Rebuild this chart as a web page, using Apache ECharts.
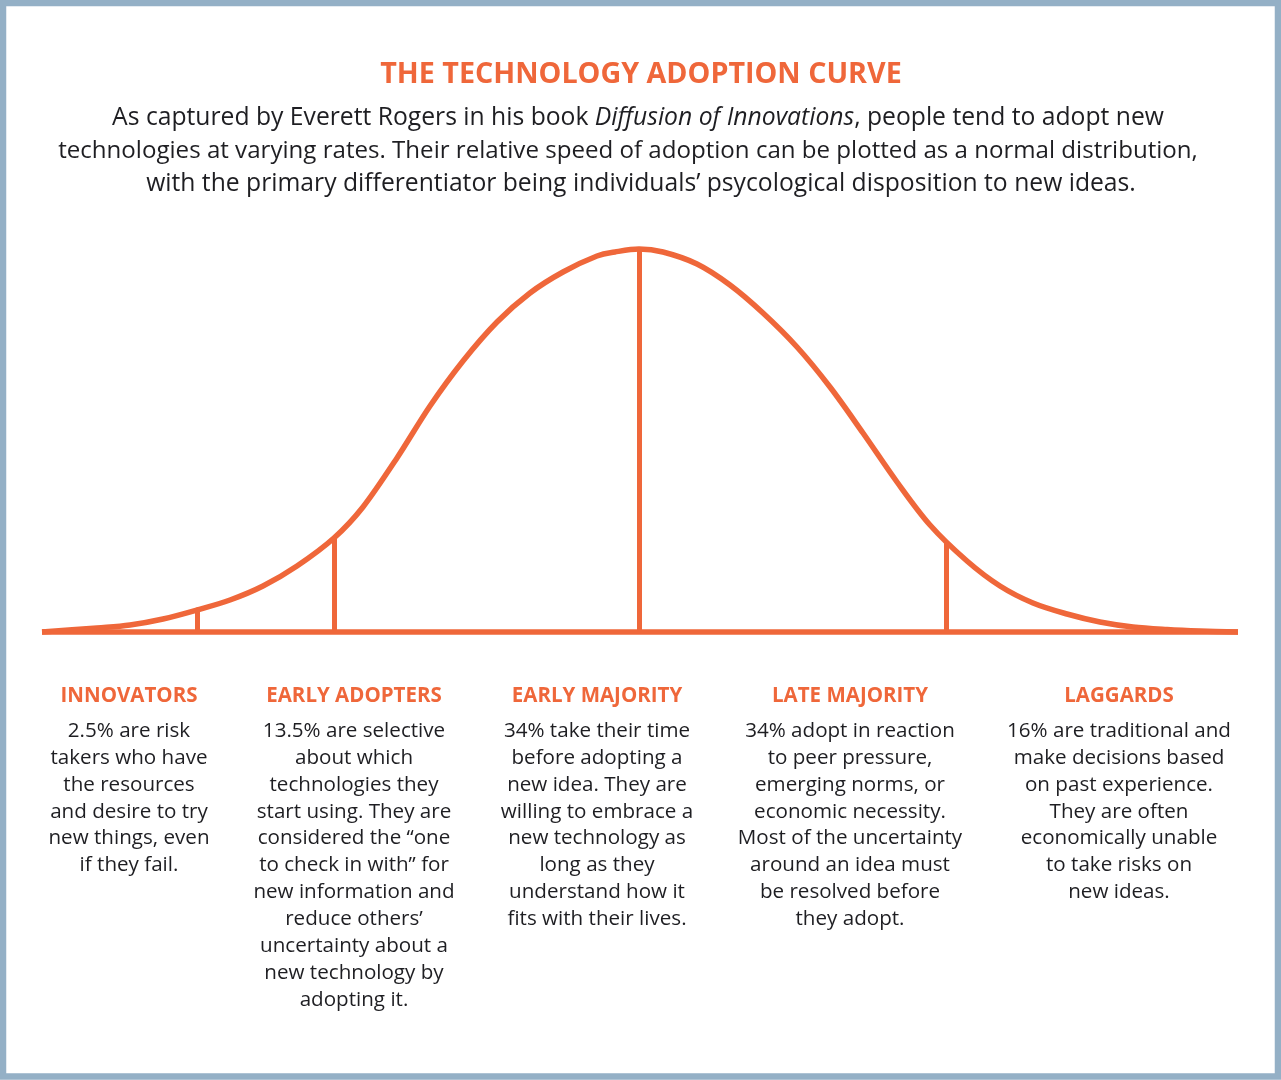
<!DOCTYPE html>
<html>
<head>
<meta charset="utf-8">
<script src="https://cdn.jsdelivr.net/npm/echarts@6/dist/echarts.min.js"></script>
<style>
html,body{margin:0;padding:0;background:#fff;}
#chart{width:1281px;height:1080px;}
</style>
</head>
<body>
<div id="chart"></div>
<script>
// Curve: horizontal position and height above the baseline
const curveX = [42, 97, 130, 163, 197, 230, 263, 297, 334, 363, 397, 430, 463, 497, 530, 563, 597, 615, 639, 663, 697, 730, 763, 797, 830, 863, 897, 930, 967, 1000, 1033, 1067, 1100, 1133, 1167, 1200, 1238];
const curveH = [0, 4, 7, 13, 22, 32, 46, 66, 94, 125, 174, 226, 271, 310, 339, 360, 376, 380, 383, 380, 368, 347, 319, 285, 245, 199, 150, 107, 71, 46, 29, 18, 10, 5, 2.5, 1, 0];
const baselineX = [42, 1238];
const dividerX = [197, 334, 639, 946];
const dividerTop = [22, 94, 383, 91];

const titleText = 'THE TECHNOLOGY ADOPTION CURVE';
const introLines = [
  'As captured by Everett Rogers in his book {i|Diffusion of Innovations}, people tend to adopt new',
  'technologies at varying rates. Their relative speed of adoption can be plotted as a normal distribution,',
  'with the primary differentiator being individuals\u2019 psycological disposition to new ideas.'
];
const introCenters = [638, 628, 641];
const introSizes = [24.7, 24.1, 24.7];
const groupNames = ['INNOVATORS', 'EARLY ADOPTERS', 'EARLY MAJORITY', 'LATE MAJORITY', 'LAGGARDS'];
const groupTexts = [
  ['2.5% are risk', 'takers who have', 'the resources', 'and desire to try', 'new things, even', 'if they fail.'],
  ['13.5% are selective', 'about which', 'technologies they', 'start using. They are', 'considered the \u201cone', 'to check in with\u201d for', 'new information and', 'reduce others\u2019', 'uncertainty about a', 'new technology by', 'adopting it.'],
  ['34% take their time', 'before adopting a', 'new idea. They are', 'willing to embrace a', 'new technology as', 'long as they', 'understand how it', 'fits with their lives.'],
  ['34% adopt in reaction', 'to peer pressure,', 'emerging norms, or', 'economic necessity.', 'Most of the uncertainty', 'around an idea must', 'be resolved before', 'they adopt.'],
  ['16% are traditional and', 'make decisions based', 'on past experience.', 'They are often', 'economically unable', 'to take risks on', 'new ideas.']
];
const groupCenters = [129, 354, 597, 850, 1119];

const ORANGE = '#ef673a';
const TEXT = '#1e1e22';
const FONT = '"Open Sans", "Noto Sans", sans-serif';

const chart = echarts.init(document.getElementById('chart'), null, {renderer: 'canvas'});

const graphics = [];
graphics.push({
  type: 'rect', silent: true, z: 0,
  shape: {x: 3, y: 3, width: 1275, height: 1073.5},
  style: {fill: '#ffffff', stroke: '#94b0c6', lineWidth: 6.5}
});
graphics.push({
  type: 'text', silent: true,
  style: {text: titleText, x: 641, y: 75, align: 'center', verticalAlign: 'middle',
    font: 'bold 28.7px ' + FONT, fill: ORANGE}
});
introLines.forEach((line, i) => {
  graphics.push({
    type: 'text', silent: true,
    style: {text: line, x: introCenters[i], y: 118 + i * 33, align: 'center', verticalAlign: 'middle',
      font: introSizes[i] + 'px ' + FONT, fill: TEXT,
      rich: {i: {fontStyle: 'italic', fontSize: introSizes[i], fontFamily: FONT, fill: TEXT}}}
  });
});
groupNames.forEach((name, k) => {
  graphics.push({
    type: 'text', silent: true,
    style: {text: name, x: groupCenters[k], y: 696, align: 'center', verticalAlign: 'middle',
      font: 'bold 20.5px ' + FONT, fill: ORANGE}
  });
  groupTexts[k].forEach((line, j) => {
    graphics.push({
      type: 'text', silent: true,
      style: {text: line, x: groupCenters[k], y: 731 + j * 26.9, align: 'center', verticalAlign: 'middle',
        font: '20.6px ' + FONT, fill: TEXT}
    });
  });
});

const dividerLines = dividerX.map((x, i) => [{coord: [x, 0]}, {coord: [x, dividerTop[i]]}]);

// Smooth curve through the read points, placed with the chart's own axes (api.coord)
function renderCurve(params, api) {
  if (params.dataIndex !== 0) return null;
  const pts = curveX.map((x, i) => api.coord([x, curveH[i]]));
  const n = pts.length;
  let d = 'M' + pts[0][0] + ' ' + pts[0][1];
  for (let i = 0; i < n - 1; i++) {
    const p0 = pts[Math.max(i - 1, 0)];
    const p1 = pts[i];
    const p2 = pts[i + 1];
    const p3 = pts[Math.min(i + 2, n - 1)];
    const c1x = p1[0] + (p2[0] - p0[0]) / 6, c1y = p1[1] + (p2[1] - p0[1]) / 6;
    const c2x = p2[0] - (p3[0] - p1[0]) / 6, c2y = p2[1] - (p3[1] - p1[1]) / 6;
    d += ' C' + c1x + ' ' + c1y + ' ' + c2x + ' ' + c2y + ' ' + p2[0] + ' ' + p2[1];
  }
  return {
    type: 'path',
    shape: {pathData: d},
    style: {stroke: ORANGE, lineWidth: 5.5, fill: null, lineJoin: 'round'}
  };
}

chart.setOption({
  animation: false,
  backgroundColor: '#ffffff',
  grid: {left: 0, right: 0, top: 192, bottom: 438},
  xAxis: {type: 'value', min: 0, max: 1281, show: false},
  yAxis: {type: 'value', min: -10, max: 440, show: false},
  graphic: graphics,
  series: [
    {
      type: 'line',
      data: baselineX.map(x => [x, 0]),
      showSymbol: false,
      silent: true,
      clip: false,
      lineStyle: {color: ORANGE, width: 5.5, cap: 'butt'},
      z: 3,
      markLine: {
        silent: true,
        symbol: ['none', 'none'],
        label: {show: false},
        lineStyle: {color: ORANGE, width: 5, type: 'solid'},
        data: dividerLines
      }
    },
    {
      type: 'custom',
      data: curveX.map((x, i) => [x, curveH[i]]),
      silent: true,
      clip: false,
      renderItem: renderCurve,
      z: 4
    }
  ]
});
</script>
</body>
</html>
